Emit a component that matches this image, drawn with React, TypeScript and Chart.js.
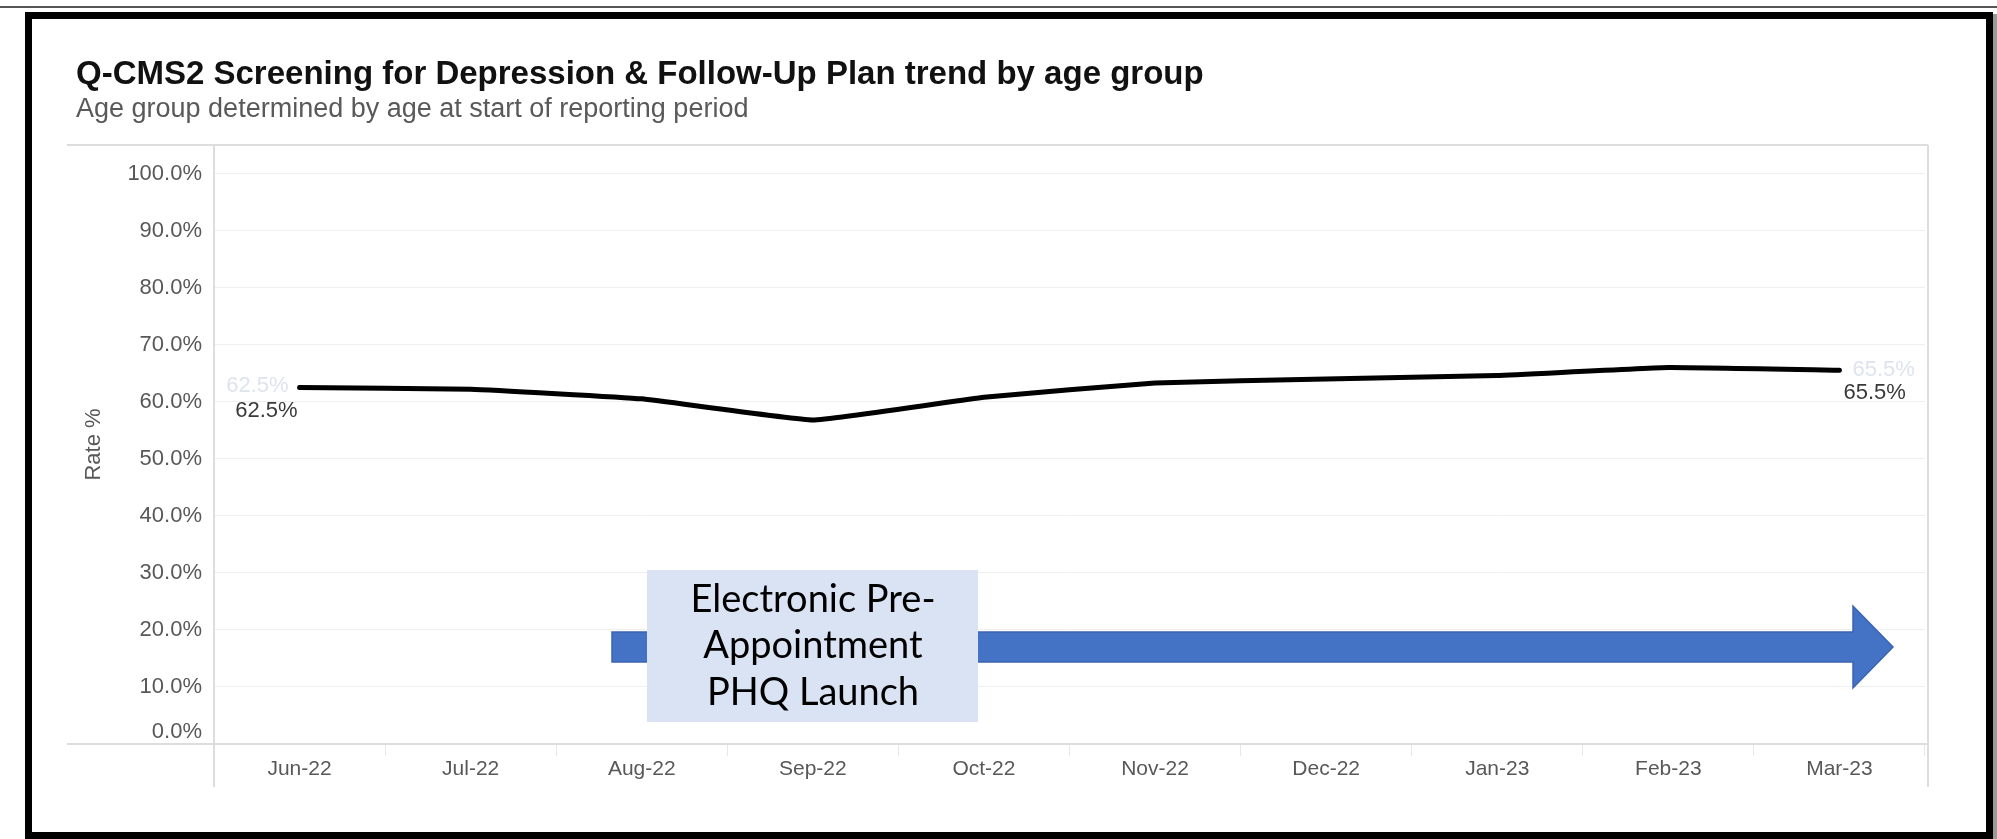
import React, { useEffect, useRef } from 'react';
import { Chart, registerables } from 'chart.js';

Chart.register(...registerables);

// ---- Data ----
const categories = ['Jun-22', 'Jul-22', 'Aug-22', 'Sep-22', 'Oct-22', 'Nov-22', 'Dec-22', 'Jan-23', 'Feb-23', 'Mar-23'];
const rates = [62.5, 62.2, 60.5, 56.8, 60.8, 63.3, 64.0, 64.6, 66.0, 65.5];
const yTickValues = [0, 10, 20, 30, 40, 50, 60, 70, 80, 90, 100];
const titleText = 'Q-CMS2 Screening for Depression & Follow-Up Plan trend by age group';
const subtitleText = 'Age group determined by age at start of reporting period';
const yAxisTitle = 'Rate %';
const annotationLines = ['Electronic Pre-', 'Appointment', 'PHQ Launch'];

const W = 1997;
const H = 839;
const FONT = '"Liberation Sans", Arial, Helvetica, sans-serif';
const TICK_COLOR = '#585858';
const fmt = (v: number) => v.toFixed(1) + '%';

export default function App() {
  const ref = useRef<HTMLCanvasElement>(null);

  useEffect(() => {
    const canvas = ref.current;
    if (!canvas) return;

    const decor = {
      id: 'decor',
      beforeDatasetsDraw(chart: any) {
        const ctx = chart.ctx as CanvasRenderingContext2D;
        const area = chart.chartArea;
        ctx.save();
        // plot frame
        ctx.strokeStyle = '#dddddd';
        ctx.lineWidth = 2;
        ctx.beginPath();
        ctx.moveTo(67, area.top);
        ctx.lineTo(area.right + 3, area.top);
        ctx.moveTo(area.right + 3, area.top);
        ctx.lineTo(area.right + 3, 787);
        ctx.moveTo(area.left, area.top);
        ctx.lineTo(area.left, 787);
        ctx.moveTo(67, area.bottom);
        ctx.lineTo(area.right + 3, area.bottom);
        ctx.stroke();

        // arrow
        ctx.fillStyle = '#4472C4';
        ctx.strokeStyle = '#3b64b0';
        ctx.lineWidth = 1.5;
        ctx.beginPath();
        ctx.moveTo(612, 632);
        ctx.lineTo(1853, 632);
        ctx.lineTo(1853, 606);
        ctx.lineTo(1893, 647);
        ctx.lineTo(1853, 688);
        ctx.lineTo(1853, 662);
        ctx.lineTo(612, 662);
        ctx.closePath();
        ctx.fill();
        ctx.stroke();

        // annotation box
        ctx.fillStyle = '#dae3f3';
        ctx.fillRect(647, 570, 331, 152);
        ctx.fillStyle = '#000000';
        ctx.font = '38px Lato, "Open Sans", sans-serif';
        ctx.textAlign = 'center';
        ctx.textBaseline = 'alphabetic';
        const baselines = [612, 658, 705];
        annotationLines.forEach((t, i) => ctx.fillText(t, 813, baselines[i]));
        ctx.restore();
      },
      afterDatasetsDraw(chart: any) {
        const ctx = chart.ctx as CanvasRenderingContext2D;
        const pts = chart.getDatasetMeta(0).data;
        const first = pts[0];
        const last = pts[pts.length - 1];
        ctx.save();
        ctx.font = '22px ' + FONT;
        ctx.textBaseline = 'middle';
        // first point labels
        ctx.textAlign = 'right';
        ctx.fillStyle = '#dde4ee';
        ctx.fillText(fmt(rates[0]), first.x - 11, first.y - 2);
        ctx.fillStyle = '#3a3a3a';
        ctx.fillText(fmt(rates[0]), first.x - 2, first.y + 23);
        // last point labels
        ctx.textAlign = 'left';
        ctx.fillStyle = '#dde4ee';
        ctx.fillText(fmt(rates[rates.length - 1]), last.x + 13, last.y);
        ctx.fillStyle = '#3a3a3a';
        ctx.fillText(fmt(rates[rates.length - 1]), last.x + 4, last.y + 23);
        ctx.restore();
      },
      afterDraw(chart: any) {
        const ctx = chart.ctx as CanvasRenderingContext2D;
        const area = chart.chartArea;
        ctx.save();
        // zero label (drawn slightly above axis like the original)
        ctx.font = '22px ' + FONT;
        ctx.fillStyle = TICK_COLOR;
        ctx.textAlign = 'right';
        ctx.textBaseline = 'middle';
        ctx.fillText(fmt(0), area.left - 12, area.bottom - 12);

        // titles
        ctx.textAlign = 'left';
        ctx.textBaseline = 'alphabetic';
        ctx.fillStyle = '#111111';
        ctx.font = 'bold 33px ' + FONT;
        ctx.fillText(titleText, 76, 84);
        ctx.fillStyle = '#595959';
        ctx.font = '27px ' + FONT;
        ctx.fillText(subtitleText, 76, 117);

        // outer frame
        ctx.fillStyle = '#555555';
        ctx.fillRect(0, 6, W, 2);
        ctx.fillStyle = '#000000';
        ctx.fillRect(25, 12, 1968, 7); // top
        ctx.fillRect(25, 12, 7, H - 12); // left
        ctx.fillRect(1986, 12, 7, H - 12); // right
        ctx.fillRect(25, 832, 1968, 7); // bottom
        ctx.fillStyle = '#9a9a9a';
        ctx.fillRect(1993, 14, 4, H - 14);
        ctx.restore();
      },
    };

    const chart = new Chart(canvas, {
      type: 'line',
      data: {
        labels: categories,
        datasets: [
          {
            label: 'Rate',
            data: rates,
            borderColor: '#000000',
            backgroundColor: '#000000',
            borderWidth: 5,
            pointRadius: 0,
            pointHoverRadius: 0,
            tension: 0.1,
            borderCapStyle: 'round',
            borderJoinStyle: 'round',
            fill: false,
          },
        ],
      },
      options: {
        responsive: false,
        animation: false,
        events: [],
        layout: { padding: { left: 0, right: 72, top: 145, bottom: 0 } },
        plugins: {
          legend: { display: false },
          tooltip: { enabled: false },
          title: { display: false },
        },
        scales: {
          x: {
            type: 'category',
            offset: true,
            grid: {
              display: true,
              offset: true,
              drawOnChartArea: false,
              drawTicks: true,
              tickLength: 12,
              color: '#e8e8e8',
              lineWidth: 1,
            },
            border: { display: false },
            ticks: {
              autoSkip: false,
              maxRotation: 0,
              padding: 1,
              color: TICK_COLOR,
              font: { family: FONT, size: 21 },
            },
            afterFit: (s: any) => {
              s.height = 95;
            },
          },
          y: {
            min: 0,
            max: 105,
            afterBuildTicks: (s: any) => {
              s.ticks = yTickValues.map((v) => ({ value: v }));
            },
            grid: { color: '#efefef', lineWidth: 1, drawTicks: false },
            border: { display: false },
            ticks: {
              padding: 12,
              color: TICK_COLOR,
              font: { family: FONT, size: 22 },
              callback: (v: any) => (Number(v) === 0 ? '' : fmt(Number(v))),
            },
            title: {
              display: true,
              text: yAxisTitle,
              color: TICK_COLOR,
              font: { family: FONT, size: 22 },
              padding: { top: 81, bottom: 0 },
            },
            afterFit: (s: any) => {
              s.width = 214;
            },
          },
        },
      },
      plugins: [decor],
    } as any);

    return () => chart.destroy();
  }, []);

  return (
    <div style={{ width: W, height: H, position: 'relative', background: '#ffffff' }}>
      <style>{'body{margin:0;background:#ffffff;}'}</style>
      <canvas ref={ref} width={W} height={H} style={{ display: 'block', width: W, height: H }} />
    </div>
  );
}
